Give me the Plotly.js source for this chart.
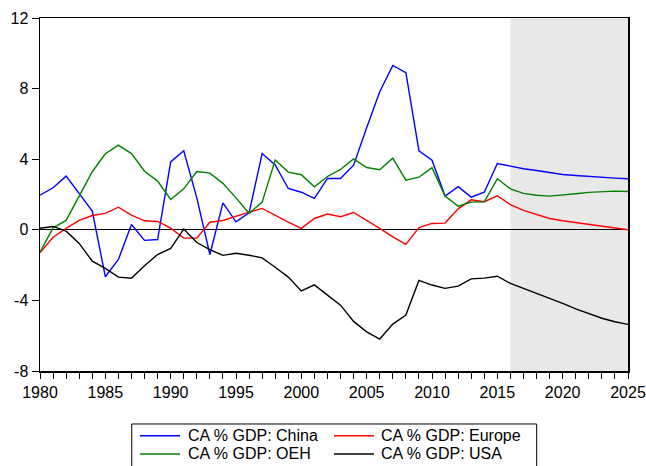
<!DOCTYPE html>
<html>
<head>
<meta charset="utf-8">
<script src="https://cdn.plot.ly/plotly-3.0.1.min.js"></script>
<style>html,body{margin:0;padding:0;background:#fff;}#chart{width:646px;height:466px;}</style>
</head>
<body>
<div id="chart"></div>
<script>
const years = [];
for (let y = 1980; y <= 2025; y++) years.push(y);

const china = [1.96,2.38,3.04,2.05,1.06,-2.66,-1.68,0.30,-0.60,-0.55,
  3.85,4.48,1.81,-1.40,1.53,0.45,0.96,4.32,3.68,2.34,
  2.13,1.78,2.91,2.91,3.66,5.78,7.82,9.31,8.90,4.48,
  3.94,1.91,2.44,1.85,2.13,3.76,3.59,3.46,3.36,3.23,
  3.13,3.08,3.02,2.98,2.93,2.89];
const europe = [-1.30,-0.42,0.08,0.53,0.81,0.93,1.28,0.83,0.51,0.47,
  0.09,-0.47,-0.47,0.43,0.53,0.78,1.00,1.21,0.81,0.43,
  0.08,0.64,0.89,0.74,0.98,0.55,0.08,-0.40,-0.83,0.13,
  0.36,0.38,1.19,1.70,1.59,1.93,1.42,1.10,0.85,0.64,
  0.51,0.40,0.30,0.21,0.11,0.00];
const oeh = [-1.27,0.11,0.53,1.91,3.29,4.31,4.80,4.32,3.32,2.76,
  1.72,2.32,3.30,3.21,2.63,1.81,0.93,1.57,3.95,3.27,
  3.12,2.44,3.02,3.42,4.02,3.53,3.40,4.06,2.81,2.98,
  3.52,1.91,1.34,1.57,1.59,2.89,2.32,2.06,1.96,1.91,
  1.96,2.04,2.12,2.17,2.19,2.17];
const usa = [0.09,0.19,-0.08,-0.77,-1.78,-2.19,-2.68,-2.74,-2.04,-1.40,
  -1.06,0.04,-0.72,-1.12,-1.45,-1.33,-1.44,-1.59,-2.12,-2.68,
  -3.46,-3.12,-3.70,-4.27,-5.19,-5.78,-6.19,-5.34,-4.83,-2.87,
  -3.13,-3.32,-3.19,-2.78,-2.74,-2.63,-3.04,-3.32,-3.61,-3.87,
  -4.17,-4.48,-4.76,-5.01,-5.21,-5.36];

const seriesNames = ['CA % GDP: China','CA % GDP: Europe','CA % GDP: OEH','CA % GDP: USA'];
const seriesColors = ['#0000ff','#ff0000','#008000','#000000'];
const forecastStart = 2016;
const forecastEnd = 2025;
const xTickVals = [1980,1985,1990,1995,2000,2005,2010,2015,2020,2025];
const yTickVals = [-8,-4,0,4,8,12];
const yTickText = ['-8','-4','0','4','8','12'];

const allSeries = [china, europe, oeh, usa];
const traces = allSeries.map((vals, i) => ({
  x: years, y: vals, type: 'scatter', mode: 'lines',
  name: seriesNames[i],
  line: {color: seriesColors[i], width: 1.4}
}));

const font = {family: 'Liberation Sans, Arial, sans-serif', size: 16, color: '#000'};

// Legend drawn below the plot in paper coordinates (2 columns x 2 rows)
const legCols = [{line0: 0.1701, line1: 0.2381, text: 0.2495}, {line0: 0.5000, line1: 0.5680, text: 0.5782}];
const legRows = [-0.1833, -0.2351];
const shapes = [{
  type: 'rect', xref: 'x', yref: 'paper', x0: forecastStart, x1: forecastEnd, y0: 0, y1: 1,
  fillcolor: '#e8e8e8', line: {width: 0}, layer: 'below'
}, {
  type: 'rect', xref: 'paper', yref: 'paper', x0: 0.156, x1: 0.8447, y0: -0.35, y1: -0.1501,
  fillcolor: 'rgba(0,0,0,0)', line: {color: '#000', width: 1}
}];
const annotations = [];
seriesNames.forEach((name, i) => {
  const c = legCols[i % 2], r = legRows[Math.floor(i / 2)];
  shapes.push({type: 'line', xref: 'paper', yref: 'paper', x0: c.line0, x1: c.line1, y0: r, y1: r,
    line: {color: seriesColors[i], width: 1.4}});
  annotations.push({xref: 'paper', yref: 'paper', x: c.text, y: r, xanchor: 'left', yanchor: 'middle',
    text: name, showarrow: false, font: font, borderpad: 0});
});

const layout = {
  width: 646, height: 466,
  margin: {l: 40, r: 18, t: 18, b: 95},
  paper_bgcolor: '#fff', plot_bgcolor: '#fff',
  font: font,
  showlegend: false,
  xaxis: {
    range: [1980, 2025], tickmode: 'array', tickvals: xTickVals,
    ticks: 'outside', ticklen: 6, tickwidth: 1, tickcolor: '#000',
    minor: {dtick: 1, ticks: 'outside', ticklen: 6, tickwidth: 1, tickcolor: '#000', tick0: 1980},
    showgrid: false, zeroline: false,
    showline: true, linecolor: '#000', linewidth: 1.5, mirror: true,
    tickfont: font, automargin: false
  },
  yaxis: {
    range: [-8, 12], tickmode: 'array', tickvals: yTickVals, ticktext: yTickText,
    ticks: 'outside', ticklen: 7, tickwidth: 1, tickcolor: '#000',
    showgrid: false, zeroline: true, zerolinecolor: '#000', zerolinewidth: 1,
    showline: true, linecolor: '#000', linewidth: 1.5, mirror: true,
    tickfont: font, automargin: false
  },
  shapes: shapes,
  annotations: annotations
};

Plotly.newPlot('chart', traces, layout, {displayModeBar: false, staticPlot: true});
</script>
</body>
</html>
